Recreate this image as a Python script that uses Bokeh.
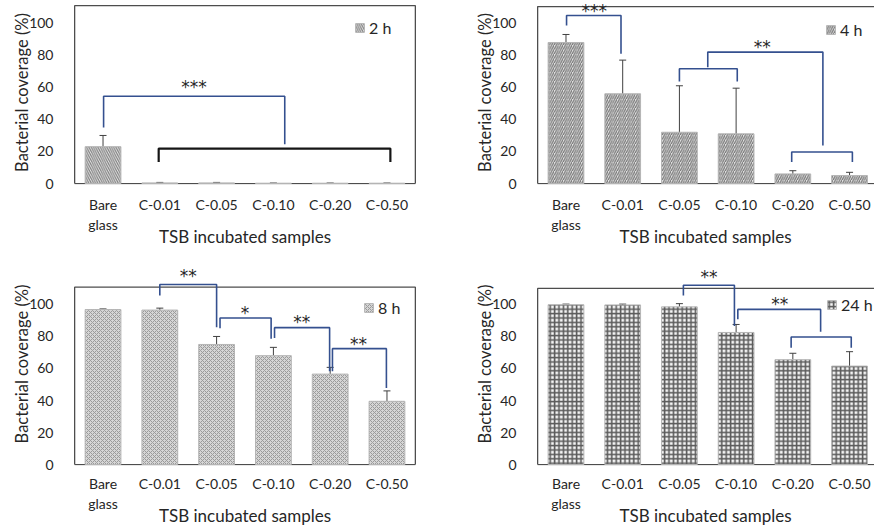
from bokeh.plotting import figure
from bokeh.models import (Range1d, FixedTicker, ColumnDataSource, Whisker, TeeHead,
                          Legend, LegendItem)
from bokeh.layouts import row, column
from bokeh.core.properties import value
from bokeh.embed import file_html
from bokeh.resources import INLINE

# ---------------- data ----------------
categories = ["Bare\nglass", "C-0.01", "C-0.05", "C-0.10", "C-0.20", "C-0.50"]
y_ticks = [0, 20, 40, 60, 80, 100]

cov_2h = [23.0, 0.4, 0.4, 0.2, 0.2, 0.2]
err_2h = [7.0, 0.3, 0.3, 0.1, 0.1, 0.1]

cov_4h = [88.0, 56.0, 32.0, 31.0, 6.0, 5.0]
err_4h = [5.0, 21.0, 29.0, 28.5, 2.0, 2.0]

cov_8h = [96.8, 96.5, 75.0, 68.0, 56.5, 39.5]
err_8h = [0.4, 1.2, 5.0, 5.2, 4.2, 6.5]

cov_24h = [99.8, 99.7, 98.5, 82.5, 65.5, 61.5]
err_24h = [0.4, 0.5, 2.0, 5.0, 4.0, 9.0]

# significance brackets: (x_left, x_right, y_top, y_left_end, y_right_end, colour)
brackets_2h = [(0.51, 3.70, 54.5, 35.0, 24.5, "blue"),
               (1.48, 5.56, 21.8, 13.5, 13.5, "black")]
stars_2h = [(2.10, 60.0, "***")]

brackets_4h = [(0.51, 1.47, 104.8, 98.6, 81.0, "blue"),
               (2.50, 3.52, 71.6, 63.7, 63.7, "blue"),
               (4.48, 5.55, 19.7, 13.5, 13.5, "blue"),
               (3.00, 5.03, 82.0, 72.6, 23.8, "blue")]
stars_4h = [(1.00, 107.9, "***"), (3.96, 85.0, "**")]

brackets_8h = [(1.50, 2.50, 112.5, 105.6, 85.8, "blue"),
               (2.56, 3.46, 91.5, 85.2, 78.6, "blue"),
               (3.52, 4.49, 85.5, 79.0, 58.2, "blue"),
               (4.54, 5.49, 72.4, 58.2, 47.8, "blue")]
stars_8h = [(2.00, 117.5, "**"), (3.00, 94.8, "*"), (4.00, 89.0, "**"), (5.00, 75.5, "**")]

brackets_24h = [(2.57, 3.47, 112.0, 105.6, 86.5, "blue"),
                (3.53, 4.99, 96.9, 90.7, 83.0, "blue"),
                (4.47, 5.53, 79.7, 73.0, 73.0, "blue")]
stars_24h = [(3.02, 117.0, "**"), (4.27, 100.0, "**")]

# ---------------- style ----------------
FONT = "Lato"
STAR_FONT = "DejaVu Sans"
TXT = "#262626"
BLUE = "#34508f"
BLACK = "#151515"
BOX = "#4d4d4d"
ERR = "#404040"

styles = {
    "2h": dict(fill_color="#e6e6e6", hatch_pattern="left_diagonal_line",
               hatch_color="#7c7c7c", hatch_scale=4.5, hatch_weight=1.1),
    "4h": dict(fill_color="#e2e2e2", hatch_pattern="right_diagonal_line",
               hatch_color="#767676", hatch_scale=4.5, hatch_weight=1.2),
    "8h": dict(fill_color="#d6d6d6", hatch_pattern="diagonal_cross",
               hatch_color="#9a9a9a", hatch_scale=4, hatch_weight=1.0),
    "24h": dict(fill_color="#f4f4f4", hatch_pattern="cross",
                hatch_color="#5c5c5c", hatch_scale=4.4, hatch_weight=1.6),
}


def make_panel(vals, errs, label, brackets, stars, style, width, height,
               b_left, b_right, b_bottom, x_end, y_end, box_top, legend_xy,
               lab_standoff, title_standoff):
    p = figure(width=width, height=height, output_backend="svg", toolbar_location=None,
               x_range=Range1d(-0.02, x_end), y_range=Range1d(-0.6, y_end),
               min_border_left=b_left, min_border_right=b_right,
               min_border_top=0, min_border_bottom=b_bottom)
    p.outline_line_color = None
    p.grid.visible = False
    p.background_fill_color = "white"
    p.border_fill_color = "white"

    xs = [i + 0.5 for i in range(len(categories))]
    src = ColumnDataSource(dict(x=xs, top=vals,
                                upper=[v + e for v, e in zip(vals, errs)],
                                lower=[v - e for v, e in zip(vals, errs)]))

    # frame box
    n = len(categories)
    p.multi_line(xs=[[0, 0, n, n], [0, n]], ys=[[0, box_top, box_top, 0], [0, 0]],
                 line_color=BOX, line_width=1.3)

    bars = p.vbar(x="x", top="top", bottom=0, width=0.63, source=src,
                  line_color="#b5b5b5", line_width=1, **style)

    w = Whisker(base="x", upper="upper", lower="lower", source=src,
                line_color=ERR, line_width=1,
                upper_head=TeeHead(size=7, line_color=ERR, line_width=1),
                lower_head=TeeHead(size=7, line_color=ERR, line_width=1))
    p.add_layout(w)

    for (xl, xr, yt, yl, yr, col) in brackets:
        p.line(x=[xl, xl, xr, xr], y=[yl, yt, yt, yr],
               line_color=BLUE if col == "blue" else BLACK,
               line_width=1.6 if col == "blue" else 2.2)

    if stars:
        p.text(x=[s[0] for s in stars], y=[s[1] for s in stars], text=[s[2] for s in stars],
               text_font=value(STAR_FONT), text_font_size="17px", text_color=TXT,
               text_align="center", text_baseline="middle")

    leg = Legend(items=[LegendItem(label=label, renderers=[bars])], location=legend_xy,
                 border_line_color=None, background_fill_alpha=0, padding=0, margin=0,
                 spacing=0, glyph_width=11, glyph_height=11, label_standoff=4,
                 label_height=16, label_text_font=FONT, label_text_font_size="16px",
                 label_text_color=TXT)
    p.add_layout(leg)

    xa = p.xaxis[0]
    xa.ticker = FixedTicker(ticks=xs)
    xa.major_label_overrides = {x: c for x, c in zip(xs, categories)}
    xa.axis_line_color = None
    xa.major_tick_line_color = None
    xa.minor_tick_line_color = None
    xa.major_label_standoff = lab_standoff
    xa.major_label_text_font = FONT
    xa.major_label_text_font_size = "14px"
    xa.major_label_text_color = TXT
    xa.major_label_text_line_height = 1.2
    xa.axis_label = "TSB incubated samples"
    xa.axis_label_text_font = FONT
    xa.axis_label_text_font_size = "17px"
    xa.axis_label_text_font_style = "normal"
    xa.axis_label_text_color = TXT
    xa.axis_label_standoff = title_standoff

    ya = p.yaxis[0]
    ya.ticker = FixedTicker(ticks=y_ticks)
    ya.axis_line_color = None
    ya.major_tick_line_color = None
    ya.minor_tick_line_color = None
    ya.major_label_standoff = 14
    ya.major_label_text_font = FONT
    ya.major_label_text_font_size = "14px"
    ya.major_label_text_color = TXT
    ya.axis_label = "Bacterial coverage (%)"
    ya.axis_label_text_font = FONT
    ya.axis_label_text_font_size = "16.5px"
    ya.axis_label_text_font_style = "normal"
    ya.axis_label_text_color = TXT
    ya.axis_label_standoff = -6
    return p


TOP_H, BOT_H = 262, 269
p1 = make_panel(cov_2h, err_2h, "2 h", brackets_2h, stars_2h, styles["2h"],
                437, TOP_H, 73, 21, 78, 6.02, 114.2, 111.0, (281, 147), 5, -10)
p2 = make_panel(cov_4h, err_4h, "4 h", brackets_4h, stars_4h, styles["4h"],
                437, TOP_H, 99, 0, 78, 5.94, 114.2, 110.4, (289, 145), 5, -10)
p3 = make_panel(cov_8h, err_8h, "8 h", brackets_8h, stars_8h, styles["8h"],
                437, BOT_H, 73, 21, 66, 6.02, 126.2, 110.8, (290, 148), 3, -10)
p4 = make_panel(cov_24h, err_24h, "24 h", brackets_24h, stars_24h, styles["24h"],
                437, BOT_H, 99, 0, 66, 5.94, 126.2, 110.0, (290, 151), 3, -10)

layout = column(row(p1, p2), row(p3, p4))
open("out.html", "w").write(file_html(layout, INLINE))
